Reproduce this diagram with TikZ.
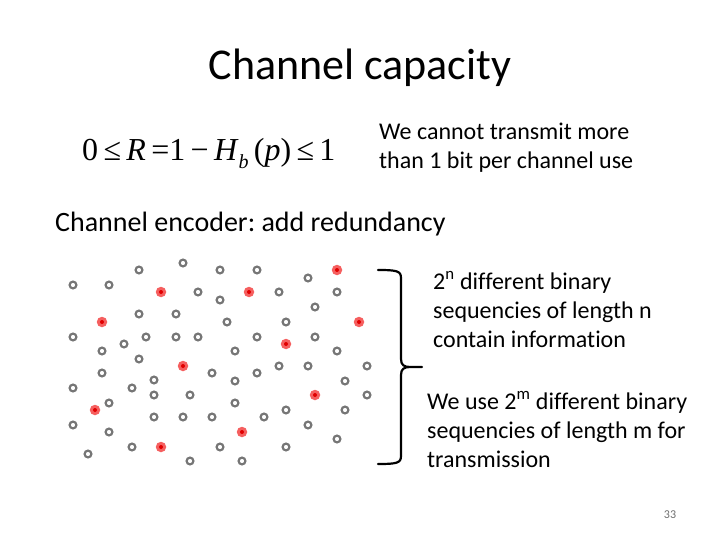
\documentclass[tikz,border=0pt]{standalone}
\usepackage{fontspec}
\setmainfont{Carlito}[Ligatures=NoCommon]
\newfontfamily\tms{Liberation Serif}
\definecolor{dotgray}{RGB}{118,118,118}
\definecolor{dotred}{RGB}{245,95,95}
\definecolor{dotcore}{RGB}{225,0,0}
\definecolor{pagenum}{RGB}{110,110,110}
\frenchspacing
\begin{document}
\begin{tikzpicture}[x=1pt,y=-1pt,
  gdot/.style={circle, draw=dotgray, line width=2.2pt, minimum size=6.8pt, inner sep=0pt},
  rdot/.style={circle, fill=dotred, minimum size=10.5pt, inner sep=0pt,
    path picture={\fill[dotcore] (path picture bounding box.center) circle (2pt);}},
  txt/.style={anchor=base west, align=left, inner sep=0pt},
  brace/.style={draw=black, line width=2.2pt, line cap=round, line join=round}]
\useasboundingbox (0,0) rectangle (720,540);

\node[txt, anchor=base, font={\fontsize{44}{48}\selectfont}] (title) at (360,80) {Channel capacity};

\node[txt, font={\tms\fontsize{32}{36}\selectfont}] (formula) at (82,161)
  {0\,≤\,\textit{R}\,=1\,−\,\textit{H}\raisebox{-0.5ex}{\fontsize{20}{20}\selectfont\textit{b}}\,(\textit{p})\,≤\,1};

\node[txt, font={\fontsize{24}{29}\selectfont}] (limit) at (379,169)
  {We cannot transmit more\\than 1 bit per channel use};

\node[txt, font={\fontsize{28}{32}\selectfont}] (enc) at (55,232)
  {Channel encoder: add redundancy};

\node[txt, font={\fontsize{24}{29}\selectfont}] (info) at (433,347)
  {2\textsuperscript{n} different binary\\sequencies of length n\\contain information};

\node[txt, font={\fontsize{24}{29}\selectfont}] (trans) at (427,467)
  {We use 2\textsuperscript{m} different binary\\sequencies of length m for\\transmission};

\node[anchor=center, inner sep=0pt, text=pagenum, font={\fontsize{12}{14}\selectfont}] (num) at (670,515) {33};

% gray dots
\foreach \x/\y [count=\i] in {
139/270,183/263,220/270,257/270,308/278,73/285,109/285,198/292,220/300,279/292,
337/292,315/307,139/314,176/314,227/322,286/322,73/337,146/337,176/337,198/337,
257/337,315/337,124/344,102/351,235/351,337/351,139/359,102/373,212/373,257/373,
279/366,308/366,367/366,154/380,235/381,345/381,73/388,132/388,154/395,190/395,
367/395,109/403,235/403,286/410,345/410,154/417,183/417,212/417,264/417,73/425,
308/425,109/432,337/439,132/447,220/447,286/447,88/454,190/461,242/461}
  \node[gdot] (g\i) at (\x,\y) {};

% red dots
\foreach \x/\y [count=\i] in {
337/270,161/292,249/292,102/322,359/322,286/344,183/366,315/395,95/410,242/432,161/447}
  \node[rdot] (r\i) at (\x,\y) {};

% brace
\draw[brace] (378,270) .. controls (397,270) and (401,271) .. (401,278)
  -- (401,359) .. controls (401,365) and (404,367) .. (410,367) -- (422,367)
  (410,367) .. controls (404,367) and (401,369) .. (401,375)
  -- (401,456) .. controls (401,463) and (397,464) .. (378,464);
\end{tikzpicture}
\end{document}
